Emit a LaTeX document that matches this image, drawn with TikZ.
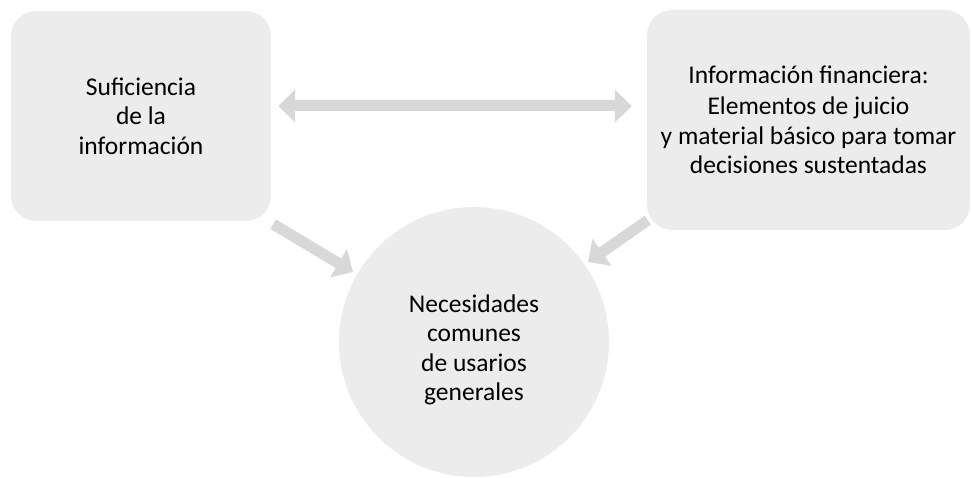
\documentclass[tikz,border=0pt]{standalone}
\usepackage{fontspec}
\setmainfont{Carlito}
\usetikzlibrary{arrows.meta, positioning}

\begin{document}
\begin{tikzpicture}[x=1pt,y=1pt]
\tikzstyle{every node}+=[inner sep=0pt, align=center, text=black, font=\fontsize{25.5}{29.5}\selectfont]
\tikzstyle{box}=[fill=boxgray, rounded corners=25pt]
\tikzstyle{bigarrow}=[draw=arrowgray, line width=11pt, -{Triangle[length=17pt,width=32pt]}]
\definecolor{boxgray}{HTML}{ECECEC}
\definecolor{arrowgray}{HTML}{D8D8D8}
\useasboundingbox (0,0) rectangle (972,478);
\node [box, minimum width=260pt, minimum height=210pt] (suf) at (141,362)
  {Suficiencia\\de la\\información};
\node [box, minimum width=323pt, minimum height=220pt] (info) at (808.5,358)
  {Información financiera:\\[2pt]Elementos de juicio\\y material básico para tomar\\decisiones sustentadas};
\node [circle, fill=boxgray, minimum size=270pt] (nec) at (474,136) {};
\node (nectext) at ([yshift=-8pt]nec.center) {Necesidades\\comunes\\de usarios\\generales};
\draw [bigarrow, {Triangle[length=17pt,width=32pt]}-{Triangle[length=17pt,width=32pt]}]
  ([xshift=7pt,yshift=10pt]suf.east) -- ([xshift=-15pt,yshift=14pt]info.west);
\draw [bigarrow] ([shift={(2pt,-3pt)}]suf.south east) -- ([shift={(-121pt,70pt)}]nec.center);
\draw [bigarrow] ([shift={(1pt,10pt)}]info.south west) -- ([shift={(114pt,80pt)}]nec.center);
\end{tikzpicture}
\end{document}
